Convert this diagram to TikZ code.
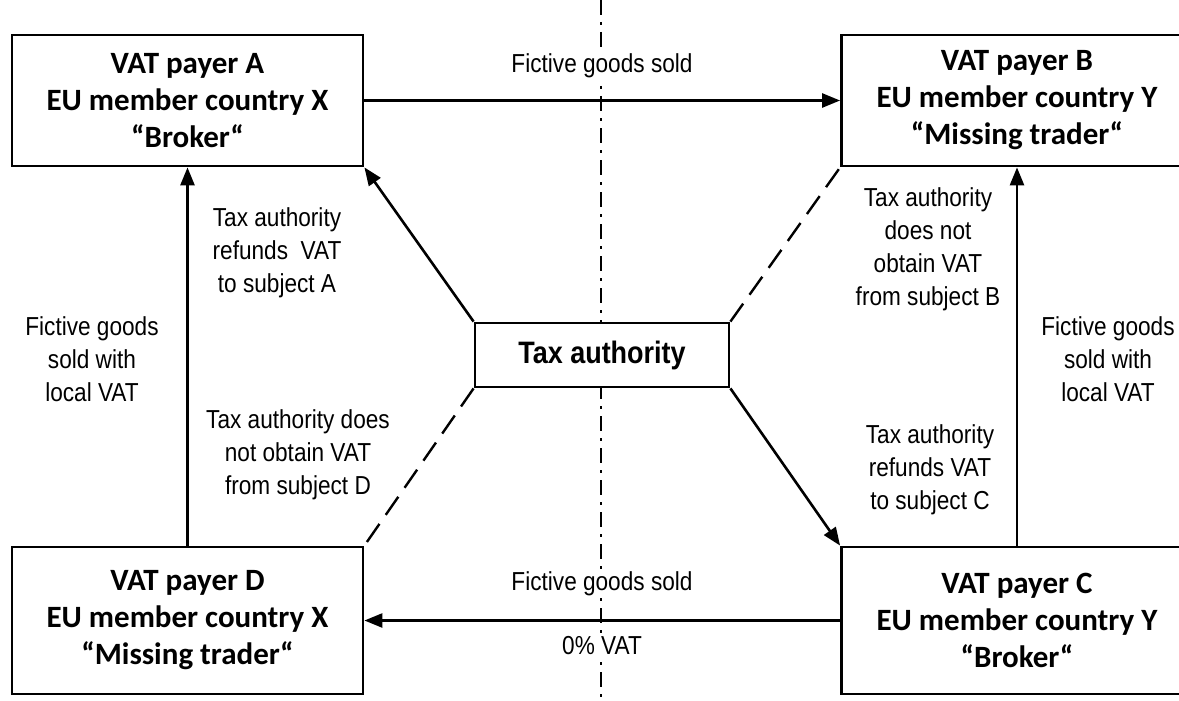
\documentclass[tikz,border=0pt]{standalone}
\usepackage{fontspec}
\setmainfont{Liberation Sans}
\newfontfamily\payerfont{Carlito}
\newfontfamily\notefont[FakeStretch=0.87]{Liberation Sans}
\usetikzlibrary{arrows.meta}
\tikzset{
	payer/.style={
		draw,
		line width=2.8pt,
		fill=white,
		minimum width=351pt,
		minimum height=#1,
		inner sep=0pt,
		align=center,
		font=\payerfont\bfseries\fontsize{31}{37}\selectfont
	},
	payer/.default={131pt},
	authority/.style={
		draw,
		line width=2.8pt,
		fill=white,
		minimum width=254pt,
		minimum height=64pt,
		inner sep=0pt,
		font=\notefont\bfseries\fontsize{31}{36}\selectfont
	},
	note/.style={
		align=center,
		fill=white,
		inner sep=2pt,
		font=\notefont\fontsize{26}{33}\selectfont
	},
	flow/.style={
		line width=2.6pt,
		-{Triangle[length=18pt,width=14pt]}
	},
	missing/.style={
		line width=2.4pt,
		dash pattern=on 22pt off 11pt
	},
	border/.style={
		line width=1.8pt,
		dash pattern=on 15pt off 7pt on 3pt off 7pt
	}
}
\begin{document}
\begin{tikzpicture}[x=1pt,y=-1pt]
	\useasboundingbox (0,0) rectangle (1179,701);
	\coordinate (top) at (601,0);
	\coordinate (bottom) at (601,701);
	\draw [border] (top) -- (bottom);

	% the four traders
	\node [payer] (A) at (187.5,100.5) {VAT payer A\\EU member country X\\“Broker“};
	\node [payer] (B) at (1017,100.5) {VAT payer B\\EU member country Y\\“Missing trader“};
	\node [payer=147pt] (D) at (187.5,620.5) {VAT payer D\\EU member country X\\“Missing trader“};
	\node [payer=147pt] (C) at (1017,620.5) {VAT payer C\\EU member country Y\\“Broker“};
	\node [authority] (tax) at (602,355) {Tax authority};

	% goods and VAT flows
	\draw [flow] (A) -- (B);
	\draw [flow] (C) -- (D);
	\draw [flow] (D) -- (A);
	\draw [flow] (C) -- (B);
	\draw [flow] (tax.north west) -- (A.south east);
	\draw [flow] (tax.south east) -- (C.north west);
	\draw [missing] (tax.north east) -- (B.south west);
	\draw [missing] (tax.south west) -- (D.north east);

	% labels
	\node [note] (soldAB) at (602,66) {Fictive goods sold};
	\node [note] (soldCD) at (602,584) {Fictive goods sold};
	\node [note] (zeroVAT) at (602,646) {0\% VAT};
	\node [note] (refundA) at (277,253) {Tax authority\\refunds\ \ VAT\\to subject A};
	\node [note] (lossD) at (298,455) {Tax authority does\\not obtain VAT\\from subject D};
	\node [note] (lossB) at (928,249) {Tax authority\\does not\\obtain VAT\\from subject B};
	\node [note] (refundC) at (930,470) {Tax authority\\refunds VAT\\to subject C};
	\node [note] (localX) at (92,359) {Fictive goods\\sold with\\local VAT};
	\node [note] (localY) at (1108,359) {Fictive goods\\sold with\\local VAT};
\end{tikzpicture}
\end{document}
